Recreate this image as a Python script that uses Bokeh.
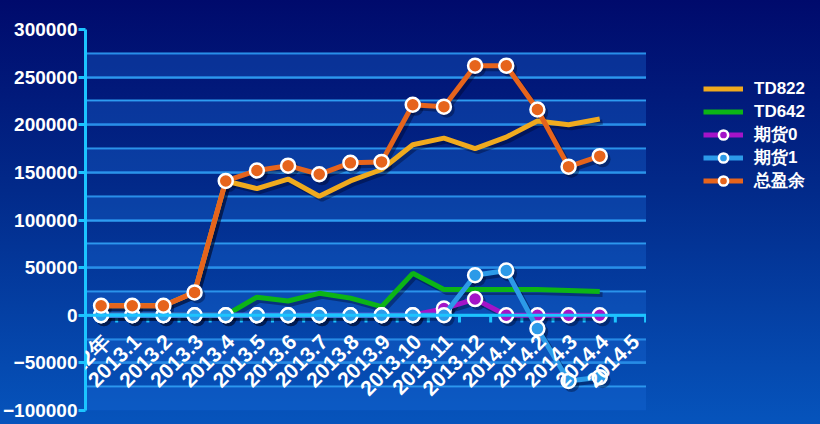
import math
from bokeh.plotting import figure
from bokeh.layouts import row
from bokeh.models import (ColumnDataSource, FactorRange, Range1d, SingleIntervalTicker,
                          BoxAnnotation, Span, Legend, LegendItem, LabelSet)
from bokeh.transform import dodge
from bokeh.core.properties import value
from bokeh.embed import file_html
from bokeh.resources import INLINE

# ---- data ----
categories = ["2012年", "2013.1", "2013.2", "2013.3", "2013.4", "2013.5", "2013.6",
              "2013.7", "2013.8", "2013.9", "2013.10", "2013.11", "2013.12",
              "2014.1", "2014.2", "2014.3", "2014.4", "2014.5"]
data_categories = categories[:17]
td822 = [10000, 10000, 10000, 24000, 141000, 133000, 143000, 125000, 141000, 153000,
         179000, 186000, 175000, 187000, 204000, 200000, 206000]
td642 = [0, 0, 0, 0, 0, 19000, 15000, 23000, 18000, 9000,
         44000, 27000, 27000, 27000, 27000, 26000, 25000]
futures0 = [0, 0, 0, 0, 0, 0, 0, 0, 0, 0, 0, 7000, 17000, 0, 0, 0, 0]
futures1 = [0, 0, 0, 0, 0, 0, 0, 0, 0, 0, 0, 0, 42000, 47000, -14000, -69000, -65000]
total = [10000, 10000, 10000, 24000, 141000, 152000, 157000, 148000, 160000, 161000,
         221000, 219000, 262000, 262000, 216000, 156000, 167000]
series_names = ["TD822", "TD642", "期货0", "期货1", "总盈余"]
y_ticks_interval = 50000

FONT = "Liberation Sans"
GRADIENT = {"background": "linear-gradient(to bottom, #000a6c 0%, #022a8a 45%, #0654bc 100%)"}

p = figure(width=646, height=424, x_range=FactorRange(*categories, range_padding=0),
           y_range=Range1d(-100000, 300000), output_backend="svg", toolbar_location=None,
           min_border_top=29, min_border_bottom=14, min_border_right=0, min_border_left=0)
p.styles = GRADIENT
p.border_fill_alpha = 0
p.background_fill_alpha = 0
p.outline_line_color = None

# alternating bands
for b in range(-100000, 300000, 50000):
    p.add_layout(BoxAnnotation(bottom=b, top=b + 25000, fill_color="#1a6ad8",
                               fill_alpha=0.35, line_color=None, level="underlay"))

# y axis
p.yaxis.ticker = SingleIntervalTicker(interval=y_ticks_interval, num_minor_ticks=2)
p.yaxis.axis_line_color = "#1cc4ff"
p.yaxis.axis_line_width = 3
p.yaxis.major_tick_line_color = "#1cc4ff"
p.yaxis.major_tick_line_width = 3
p.yaxis.major_tick_out = 7
p.yaxis.major_tick_in = 0
p.yaxis.minor_tick_line_color = None
p.yaxis.major_label_text_color = "white"
p.yaxis.major_label_text_font = FONT
p.yaxis.major_label_text_font_style = "bold"
p.yaxis.major_label_text_font_size = "19px"
p.yaxis.major_label_standoff = 1
p.yaxis.formatter.use_scientific = False

p.xaxis.visible = False
p.xgrid.grid_line_color = None
p.ygrid.grid_line_color = "#2e9cf0"
p.ygrid.grid_line_width = 2
p.ygrid.minor_grid_line_color = "#2e9cf0"
p.ygrid.minor_grid_line_width = 2

# x axis at zero
p.add_layout(Span(location=0, dimension="width", line_color="#1cc4ff", line_width=3))
tick_src = ColumnDataSource(dict(cat=categories, zero=[0] * len(categories)))
p.segment(x0=dodge("cat", -0.5, range=p.x_range), y0="zero",
          x1=dodge("cat", -0.5, range=p.x_range), y1=dodge("zero", -7500),
          source=tick_src, line_color="#1cc4ff", line_width=3)
p.segment(x0=dodge("cat", 0.47, range=p.x_range), y0="zero",
          x1=dodge("cat", 0.47, range=p.x_range), y1=dodge("zero", -7500),
          source=ColumnDataSource(dict(cat=categories[-1:], zero=[0])),
          line_color="#1cc4ff", line_width=3)

src = ColumnDataSource(dict(cat=data_categories, idx=list(range(len(data_categories))),
                            td822=td822, td642=td642, f0=futures0, f1=futures1, total=total))
cols = ["td822", "td642", "f0", "f1", "total"]
colors = ["#f0aa1e", "#0cb416", "#a414c8", "#2c9ae8", "#e6641c"]
markers = [False, False, True, True, True]

# shadows
for c, m in zip(cols, markers):
    p.line(x=dodge("cat", 0.09, range=p.x_range), y=dodge(c, -3200), source=src,
           line_color="#000018", line_alpha=0.35, line_width=5)
    if m:
        p.scatter(x=dodge("cat", 0.09, range=p.x_range), y=dodge(c, -3200), source=src,
                  size=16, fill_color="#000018", fill_alpha=0.35, line_color=None)

for c, col, m in zip(cols, colors, markers):
    p.line(x="cat", y=c, source=src, line_color=col, line_width=5)
    if m:
        p.scatter(x="cat", y=c, source=src, size=14, fill_color=col,
                  line_color="white", line_width=2.5)

# x labels
p.add_layout(LabelSet(x="cat", y="zero", text="cat", source=tick_src, angle=math.pi / 4,
                      text_align="right", text_baseline="middle", x_offset=5, y_offset=-23,
                      text_color="white", text_font=value(FONT), text_font_style="bold",
                      text_font_size="21px"))

# ---- legend panel (separate figure on the right; series drawn off-screen) ----
lp = figure(width=174, height=424, x_range=Range1d(-20, -19), y_range=Range1d(0, 1),
            output_backend="svg", toolbar_location=None, min_border=0)
lp.styles = GRADIENT
lp.border_fill_alpha = 0
lp.background_fill_alpha = 0
lp.outline_line_color = None
lp.axis.visible = False
lp.grid.visible = False

items = []
for name, c, col, m in zip(series_names, cols, colors, markers):
    r = [lp.line(x="idx", y=c, source=src, line_color=col, line_width=5)]
    if m:
        r.append(lp.scatter(x="idx", y=c, source=src, size=14, fill_color=col,
                            line_color="white", line_width=2.5))
    items.append(LegendItem(label=name, renderers=r))

legend = Legend(items=items, location=(57, 218), glyph_width=40, glyph_height=23,
                spacing=0, padding=0, margin=0, label_standoff=11,
                label_text_color="white", label_text_font=FONT,
                label_text_font_style="bold", label_text_font_size="17px",
                background_fill_alpha=0, border_line_alpha=0)
lp.add_layout(legend, "center")

layout = row(p, lp, spacing=0)
open("out.html", "w").write(file_html(layout, INLINE))
